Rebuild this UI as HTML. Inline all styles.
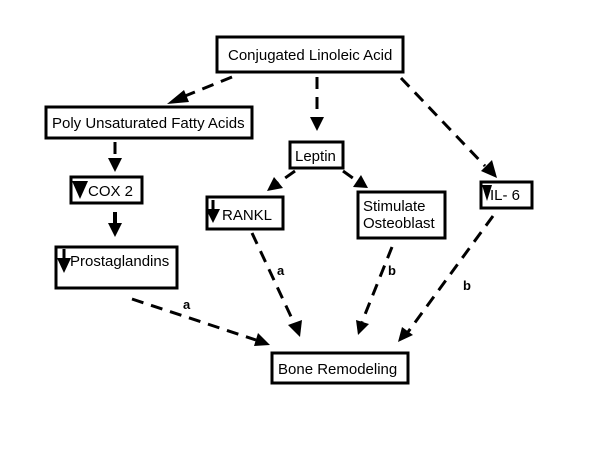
<!DOCTYPE html>
<html><head><style>
body{margin:0;background:#fff;}
svg{display:block}
text{font-family:"Liberation Sans",sans-serif;fill:#000}
</style></head><body>
<svg width="600" height="476" viewBox="0 0 600 476" xmlns="http://www.w3.org/2000/svg">
<g fill="none" stroke="#000" stroke-width="3">
<rect x="217" y="37" width="186" height="35"/>
<rect x="46" y="107" width="206" height="31"/>
<rect x="71" y="177" width="71" height="26"/>
<rect x="56" y="247" width="121" height="41"/>
<rect x="290" y="142" width="53" height="26"/>
<rect x="207" y="197" width="76" height="32"/>
<rect x="358" y="192" width="87" height="46"/>
<rect x="481" y="182" width="51" height="26"/>
<rect x="272" y="353" width="136" height="30"/>
</g>
<g stroke="#000" stroke-width="3" stroke-dasharray="12,8" fill="none">
<line x1="232" y1="77" x2="180" y2="98"/>
<line x1="317" y1="77" x2="317" y2="118"/>
<line x1="401" y1="78" x2="485" y2="166"/>
<line x1="115" y1="142" x2="115" y2="162"/>
<line x1="295" y1="171" x2="278" y2="183"/>
<line x1="343" y1="171" x2="357" y2="181"/>
<line x1="252" y1="233" x2="294" y2="323"/>
<line x1="392" y1="247" x2="362" y2="322"/>
<line x1="493" y1="216" x2="408" y2="332"/>
<line x1="132" y1="299" x2="256" y2="340"/>
</g>
<line x1="115" y1="212" x2="115" y2="226" stroke="#000" stroke-width="4"/>
<g fill="#000">
<polygon points="167,104 184,90 189,102"/>
<polygon points="317,131 310,117 324,117"/>
<polygon points="497,178 481,171 492,160"/>
<polygon points="115,172 108,158 122,158"/>
<polygon points="115,237 108,223 122,223"/>
<polygon points="267,191 274,177 283,188"/>
<polygon points="368,188 353,187 361,175"/>
<polygon points="300,337 288,325 302,320"/>
<polygon points="358,335 356,320 369,324"/>
<polygon points="398,342 402,327 413,335"/>
<polygon points="270,345 254,346 258,333"/>
<polygon points="72,181 88,181 80,199"/>
<polygon points="482,185 492,185 487,201"/>
<polygon points="206,209 220,209 213,223"/>
<rect x="211.5" y="200" width="3" height="10"/>
<polygon points="57,258 71,258 64,273"/>
<rect x="62.5" y="249" width="3" height="10"/>
</g>
<g font-size="15">
<text x="228" y="60">Conjugated Linoleic Acid</text>
<text x="52" y="128">Poly Unsaturated Fatty Acids</text>
<text x="88" y="196">COX 2</text>
<text x="70" y="266">Prostaglandins</text>
<text x="295" y="161">Leptin</text>
<text x="222" y="220">RANKL</text>
<text x="363" y="211">Stimulate</text>
<text x="363" y="228">Osteoblast</text>
<text x="490" y="200">IL- 6</text>
<text x="278" y="374">Bone Remodeling</text>
</g>
<g font-size="13" font-weight="bold">
<text x="277" y="275">a</text>
<text x="388" y="275">b</text>
<text x="463" y="290">b</text>
<text x="183" y="309">a</text>
</g>
</svg>
</body></html>
